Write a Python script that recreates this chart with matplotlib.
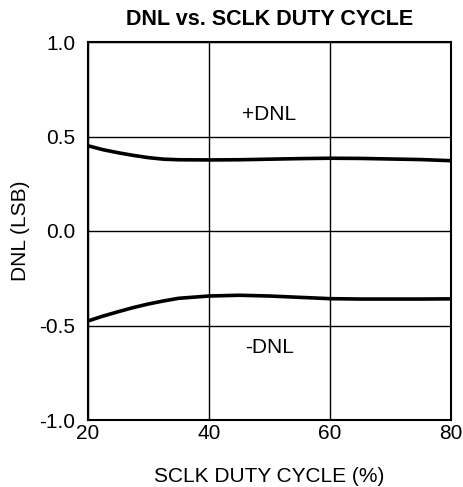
import matplotlib
matplotlib.use("Agg")
import matplotlib.pyplot as plt
import numpy as np

plt.rcParams['font.family'] = ['Liberation Sans', 'DejaVu Sans']

duty = [20, 22.5, 25, 27.5, 30, 32.5, 35, 40, 45, 50, 55, 60, 65, 70, 75, 80]
dnl_pos = [0.451, 0.430, 0.414, 0.400, 0.388, 0.380, 0.377, 0.376, 0.377, 0.380, 0.383, 0.385, 0.384, 0.381, 0.378, 0.372]
duty_n = [20, 22.5, 25, 27.5, 30, 32.5, 35, 40, 45, 50, 55, 60, 65, 70, 75, 80]
dnl_neg = [-0.476, -0.450, -0.427, -0.405, -0.386, -0.370, -0.356, -0.344, -0.340, -0.344, -0.351, -0.358, -0.360, -0.360, -0.360, -0.359]

xticks = [20, 40, 60, 80]
yticks = [-1.0, -0.5, 0.0, 0.5, 1.0]

fig = plt.figure(figsize=(4.64, 4.87), dpi=100)
ax = fig.add_axes([88/464, 1-420/487, (451-88)/464, (420-42)/487])

ax.plot(duty, dnl_pos, color='black', lw=2.6, solid_capstyle='butt')
ax.plot(duty_n, dnl_neg, color='black', lw=2.6, solid_capstyle='butt')

ax.set_xlim(20, 80)
ax.set_ylim(-1, 1)
ax.set_xticks(xticks)
ax.set_yticks(yticks)
ax.set_xticklabels([str(t) for t in xticks])
ax.set_yticklabels([f"{t:.1f}" for t in yticks])
ax.tick_params(length=0, labelsize=15)
ax.tick_params(axis='x', pad=3)
ax.tick_params(axis='y', pad=9)
ax.grid(True, color='black', lw=1.0)
for s in ax.spines.values():
    s.set_linewidth(1.5)

ax.text(50, 0.614, '+DNL', ha='center', va='center', fontsize=15)
ax.text(50, -0.616, '-DNL', ha='center', va='center', fontsize=15)

ax.set_xlabel('SCLK DUTY CYCLE (%)', fontsize=15, labelpad=17)
ax.set_ylabel('DNL (LSB)', fontsize=15, labelpad=6.5)
ax.set_title('DNL vs. SCLK DUTY CYCLE', fontsize=15.5, fontweight='bold', pad=12.5)

fig.savefig('out.png', dpi=100)
